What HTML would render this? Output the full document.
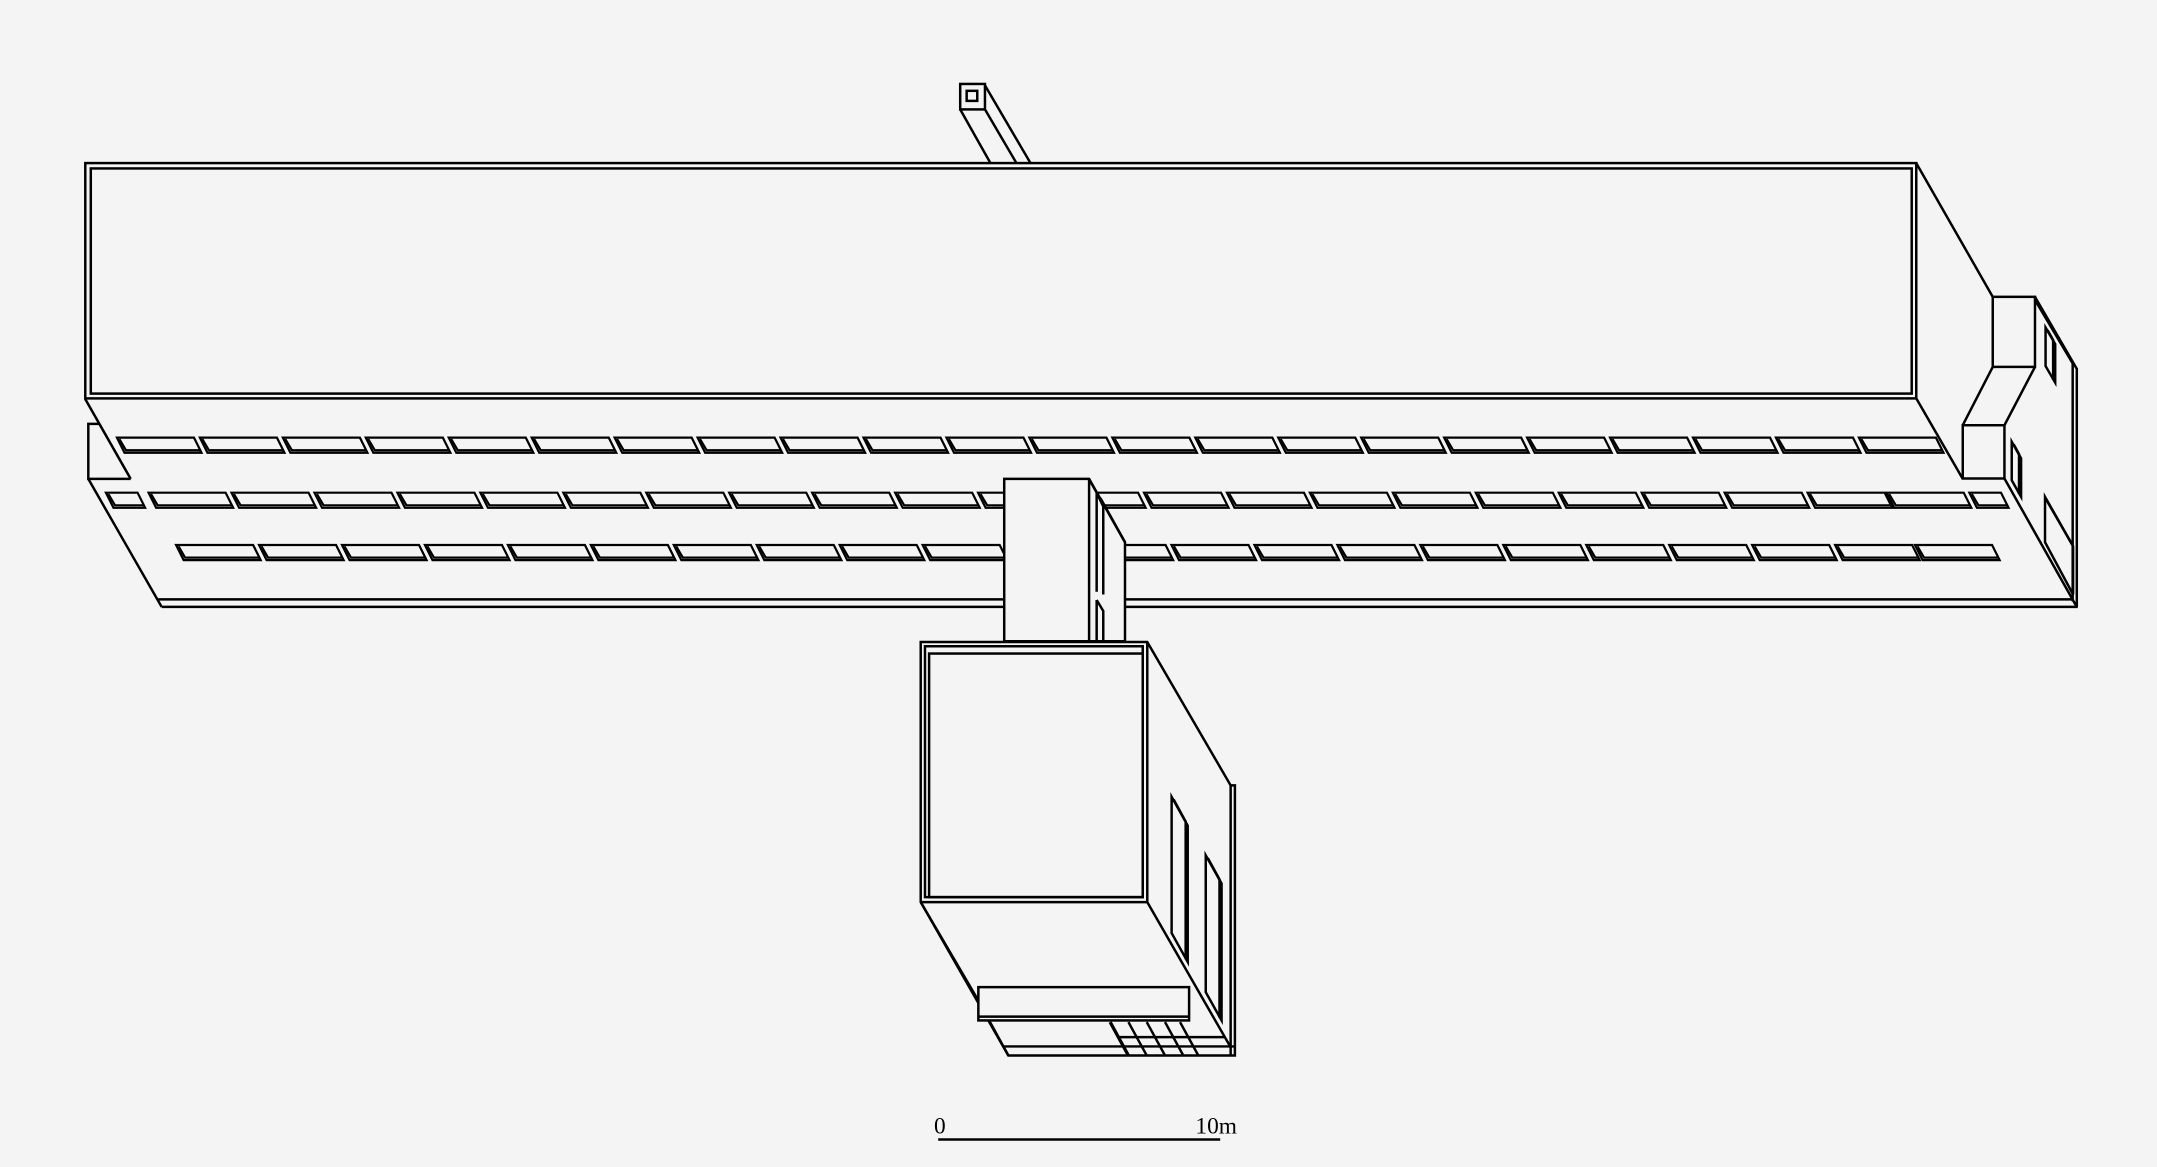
<!DOCTYPE html>
<html><head><meta charset="utf-8"><style>
html,body{margin:0;padding:0;background:#f4f4f4;}
svg{display:block;}
</style></head><body>
<svg width="2157" height="1167" viewBox="0 0 1568 848" preserveAspectRatio="none" xmlns="http://www.w3.org/2000/svg">
<defs>
<g id="w"><polygon points="0,0 56,0 61.5,11 5.5,11" fill="none" stroke="#000" stroke-width="1.6"/><polyline points="1.8,1 6.6,9.2 60.5,9.2" fill="none" stroke="#000" stroke-width="1.6"/></g>
<g id="ws"><polygon points="0,0 23,0 28.5,11 5.5,11" fill="none" stroke="#000" stroke-width="1.6"/><polyline points="1.8,1 6.6,9.2 27.5,9.2" fill="none" stroke="#000" stroke-width="1.6"/></g>
</defs>
<rect width="1568" height="848" fill="#f4f4f4"/>
<g fill="none" stroke="#000" stroke-width="1.8" stroke-linejoin="miter">
<!-- chimney -->
<rect x="698" y="61" width="18" height="18.5"/>
<rect x="702.7" y="66" width="7.7" height="7.3"/>
<line x1="698" y1="79.5" x2="719.7" y2="118"/>
<line x1="716" y1="79.5" x2="738.6" y2="118"/>
<line x1="716" y1="62" x2="748.8" y2="118"/>
<!-- main top -->
<rect x="62" y="118.5" width="1331" height="171"/>
<rect x="66" y="122.4" width="1323.7" height="163.6"/>
<!-- left end -->
<line x1="62" y1="290" x2="95" y2="348"/>
<polyline points="71.6,308 64.2,308 64.2,348 95,348"/>
<line x1="64.2" y1="348" x2="117.5" y2="441"/>
<line x1="115" y1="435.5" x2="1507" y2="435.5"/>
<line x1="117.5" y1="441" x2="1510.4" y2="441"/>
<!-- right end -->
<line x1="1393" y1="118.5" x2="1448.6" y2="215.7"/>
<line x1="1393" y1="289.5" x2="1426.8" y2="348"/>
<rect x="1448.6" y="215.7" width="30.7" height="50.9"/>
<polyline points="1479.3,215.7 1509.7,268 1509.7,441"/>
<polyline points="1479.3,218 1506.7,264 1506.7,437"/>
<line x1="1448.6" y1="266.6" x2="1426.8" y2="309"/>
<line x1="1479.3" y1="266.6" x2="1457.1" y2="309"/>
<rect x="1426.8" y="309" width="30.3" height="38.7"/>
<line x1="1457.1" y1="347.7" x2="1509" y2="439.8"/>
<polygon points="1487,238 1494,250 1494,278 1487,266"/>
<polyline points="1488.5,240 1492.5,247 1492.5,276"/>
<polygon points="1462.4,321 1469.2,333 1469.2,361 1462.4,349"/>
<polyline points="1463.9,323 1467.7,330 1467.7,359"/>
<polygon points="1486.6,361 1507,397 1507,432 1486.6,394"/>
<line x1="1488" y1="364" x2="1506" y2="395"/>
</g>
<g>
<use href="#w" x="85" y="318"/><use href="#w" x="145.3" y="318"/><use href="#w" x="205.6" y="318"/><use href="#w" x="265.9" y="318"/><use href="#w" x="326.2" y="318"/><use href="#w" x="386.5" y="318"/><use href="#w" x="446.8" y="318"/><use href="#w" x="507.1" y="318"/><use href="#w" x="567.4" y="318"/><use href="#w" x="627.7" y="318"/><use href="#w" x="688" y="318"/><use href="#w" x="748.3" y="318"/><use href="#w" x="808.6" y="318"/><use href="#w" x="868.9" y="318"/><use href="#w" x="929.2" y="318"/><use href="#w" x="989.5" y="318"/><use href="#w" x="1049.8" y="318"/><use href="#w" x="1110.1" y="318"/><use href="#w" x="1170.4" y="318"/><use href="#w" x="1230.7" y="318"/><use href="#w" x="1291" y="318"/><use href="#w" x="1351.3" y="318"/>
</g>
<g>
<use href="#ws" x="77" y="358"/>
<use href="#w" x="108" y="358"/><use href="#w" x="168.3" y="358"/><use href="#w" x="228.6" y="358"/><use href="#w" x="288.9" y="358"/><use href="#w" x="349.2" y="358"/><use href="#w" x="409.5" y="358"/><use href="#w" x="469.8" y="358"/><use href="#w" x="530.1" y="358"/><use href="#w" x="590.4" y="358"/><use href="#w" x="650.7" y="358"/><use href="#w" x="711" y="358"/><use href="#w" x="771.3" y="358"/><use href="#w" x="831.6" y="358"/><use href="#w" x="891.9" y="358"/><use href="#w" x="952.2" y="358"/><use href="#w" x="1012.5" y="358"/><use href="#w" x="1072.8" y="358"/><use href="#w" x="1133.1" y="358"/><use href="#w" x="1193.4" y="358"/><use href="#w" x="1253.7" y="358"/><use href="#w" x="1314" y="358"/><use href="#w" x="1371.5" y="358"/>
<use href="#ws" x="1431.6" y="358"/>
</g>
<g>
<use href="#w" x="128" y="396"/><use href="#w" x="188.3" y="396"/><use href="#w" x="248.6" y="396"/><use href="#w" x="308.9" y="396"/><use href="#w" x="369.2" y="396"/><use href="#w" x="429.5" y="396"/><use href="#w" x="489.8" y="396"/><use href="#w" x="550.1" y="396"/><use href="#w" x="610.4" y="396"/><use href="#w" x="670.7" y="396"/><use href="#w" x="731" y="396"/><use href="#w" x="791.3" y="396"/><use href="#w" x="851.6" y="396"/><use href="#w" x="911.9" y="396"/><use href="#w" x="972.2" y="396"/><use href="#w" x="1032.5" y="396"/><use href="#w" x="1092.8" y="396"/><use href="#w" x="1153.1" y="396"/><use href="#w" x="1213.4" y="396"/><use href="#w" x="1273.7" y="396"/><use href="#w" x="1334" y="396"/><use href="#w" x="1392.1" y="396"/>
</g>
<g fill="#f4f4f4" stroke="#000" stroke-width="1.8">
<polygon points="730,348 791.7,348 817.8,394 817.8,466 730,466"/>
<line x1="791.7" y1="348" x2="791.7" y2="466"/>
<polyline points="791.7,348 797.2,358 797.2,430" fill="none"/>
<polyline points="797.2,358 802,368 802,432" fill="none"/>
<line x1="800" y1="362" x2="817.8" y2="394"/>
<polyline points="797.2,436 802,444 802,466" fill="none"/>
<line x1="797.2" y1="436" x2="797.2" y2="466"/>
<polygon points="669.3,466.5 834,466.5 894.6,570.7 897.7,570.7 897.7,767 733,767 669.3,655.5"/>
</g>
<g fill="none" stroke="#000" stroke-width="1.8">
<rect x="672.4" y="469.6" width="158.3" height="182.3"/>
<rect x="675.4" y="474.9" width="155.3" height="177"/>
<line x1="669.3" y1="655.5" x2="834" y2="655.5"/>
<line x1="834" y1="466.5" x2="834" y2="655.5"/>
<line x1="894.6" y1="570.7" x2="894.6" y2="767"/>
<line x1="834" y1="655.5" x2="894.6" y2="761"/>
<line x1="669.3" y1="655.5" x2="711.2" y2="727"/>
<polygon points="851.7,579 863.4,600 863.4,699 851.7,678"/>
<polyline points="853.2,581 861.9,597 861.9,697"/>
<polygon points="876.5,621.5 888,642 888,741.5 876.5,721"/>
<polyline points="878,623.5 886.5,639 886.5,739.5"/>
<rect x="711.2" y="717.3" width="153.2" height="24.2" fill="#f4f4f4"/>
<line x1="711.2" y1="738.7" x2="864.4" y2="738.7"/>
<line x1="719.7" y1="742.7" x2="733" y2="767"/>
<line x1="729.4" y1="760.4" x2="897.7" y2="760.4"/>
<line x1="813" y1="753.6" x2="890" y2="753.6"/>
<line x1="807" y1="742.7" x2="820.3" y2="767" stroke-width="2.4"/>
<line x1="820.3" y1="742.7" x2="833.6" y2="767"/>
<line x1="833.6" y1="742.7" x2="846.9" y2="767"/>
<line x1="846.9" y1="742.7" x2="860.2" y2="767"/>
<line x1="857.8" y1="742.7" x2="871.1" y2="767"/>
<line x1="682" y1="828" x2="887" y2="828" stroke-width="1.8"/>
</g>
<g font-family="'Liberation Serif', serif" font-size="17" fill="#000">
<text x="679" y="823.5">0</text>
<text x="869" y="823.5">10m</text>
</g>
</svg>
</body></html>
